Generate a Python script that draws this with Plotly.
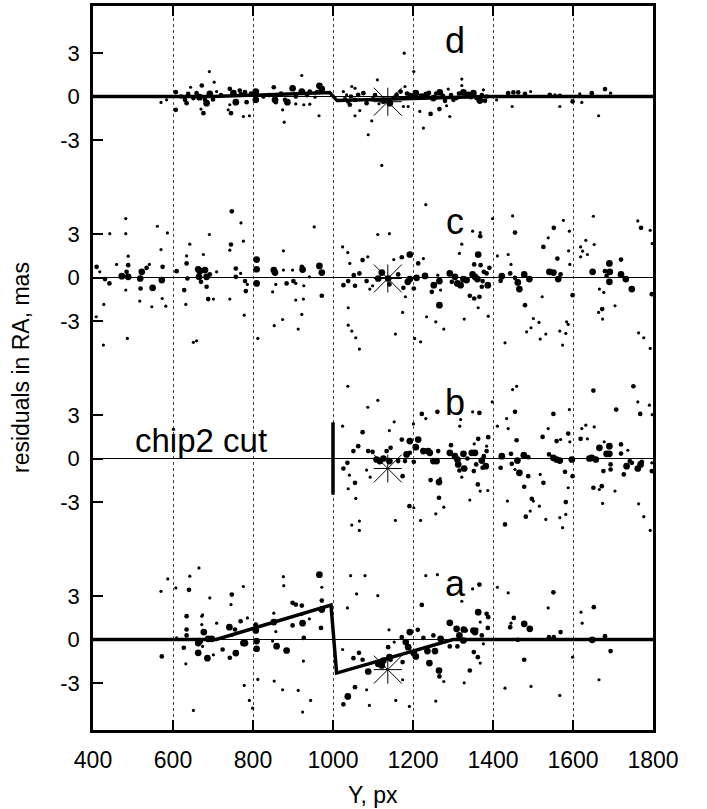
import plotly.graph_objects as go

# ---------------- data ----------------
x_ticks = [400, 600, 800, 1000, 1200, 1400, 1600, 1800]
y_tick_labels = ["-3", "0", "3"]
panel_names = ["a", "b", "c", "d"]
panel_offsets = [0.0, 12.5, 25.0, 37.5]

# model curves (Y px, residual mas)
model_a_x = [400, 708, 995, 1009, 1300, 1800]
model_a_y = [0, 0, 2.38, -2.32, 0, 0]
model_d_x = [400, 700, 992, 1010, 1385, 1800]
model_d_y = [0, 0, 0.27, -0.28, 0, 0]

chip2_cut_x = 1000
chip2_cut_half = 2.5

star_x = 1137
star_y = {"a": -2.08, "b": -0.69, "c": -0.07, "d": -0.36}

# points: [Y px, residual mas, weight class]
points_d = [
    [570,-0.41,1],[584,-0.23,1],[607,0.30,2],[607,-0.92,2],[630,-0.23,2],[634,-0.46,2],[638,0.18,2],[644,0.64,1],
    [651,-0.11,2],[659,0.23,2],[666,-0.05,3],[672,0.76,2],[670,-0.87,1],[676,-1.15,2],[680,-0.23,2],[684,-0.46,3],
    [691,1.72,1],[692,0.18,3],[703,0.99,1],[709,0.34,1],[738,-0.92,1],[745,-1.15,2],[742,0.53,2],[742,-0.57,1],
    [751,0.23,3],[757,-0.39,3],[767,0.41,2],[780,0.30,2],[784,-0.39,2],[776,-1.38,1],[791,-1.33,1],[807,0.34,3],
    [807,-0.23,3],[826,0.0,2],[852,0.64,2],[855,-0.23,3],[857,-0.39,2],[874,-0.92,1],[878,-1.77,1],[880,-0.23,2],
    [886,-0.39,3],[899,0.57,3],[907,0.0,2],[907,-0.51,1],[922,1.45,1],[922,0.34,3],[927,-0.57,1],[942,0.34,2],
    [942,-0.53,1],[955,-0.05,1],[965,-1.33,1],[966,0.74,3],[972,0.51,3],
    [620,0.0,2],[700,-0.2,2],[720,0.1,2],[770,0.15,2],[795,0.2,2],[840,0.1,2],[870,0.2,2],[935,0.1,2],[960,0.3,2],
    [1026,0.34,1],[1034,0.11,1],[1047,0.69,1],[1055,0.57,1],[1038,-0.34,2],[1042,-0.57,2],[1055,-0.23,2],[1063,0.11,2],
    [1067,-0.97,1],[1055,-1.33,1],[1076,0.23,2],[1084,-0.46,2],[1097,-1.68,1],[1088,-2.64,1],[1111,1.15,1],[1122,-4.76,1],
    [1126,-0.28,3],[1142,-0.46,3],[1151,-0.11,2],[1159,0.11,2],[1169,0.34,2],[1178,2.99,1],[1180,0.69,1],[1176,-0.69,1],
    [1188,-0.69,1],[1192,0.11,2],[1202,1.72,1],[1207,0.23,3],[1217,-1.03,1],[1226,-2.18,1],[1222,0.0,3],[1234,0.11,3],
    [1244,-1.2,2],[1251,-0.11,3],[1266,-0.87,2],[1267,0.28,3],[1284,-0.64,1],[1292,-1.38,1],[1288,0.51,1],[1301,-0.23,2],
    [1309,-0.11,2],[1322,1.2,1],[1322,0.76,1],[1326,0.28,3],[1338,0.11,3],[1351,0.23,3],[1359,-0.11,2],[1367,-0.28,3],
    [1376,0.46,1],[1384,0.0,2],[1409,-0.23,1],[1438,0.23,2],[1448,-0.69,1],[1451,0.28,2],[1463,0.28,2],[1480,0.18,2],
    [1494,0.34,1],[1542,0.11,2],[1555,0.11,1],[1567,0.05,2],[1567,-0.69,1],[1599,-0.34,2],[1622,-0.41,1],[1617,0.18,1],
    [1647,0.23,2],[1664,-1.33,1],[1680,0.51,2],[1694,0.23,1],
    [1030,-0.2,2],[1045,0.0,2],[1100,-0.2,2],[1105,0.1,2],[1115,-0.5,1],[1185,0.2,2],[1198,0.05,2],[1240,0.25,2],
    [1258,0.2,2],[1275,0.05,2],[1280,-0.3,2],[1295,0.1,2],[1315,0.2,2],[1345,-0.05,2],[1372,0.1,2],[1380,-0.3,2],
]

points_c = [
    [409,0.74,2],[408,-2.71,1],[417,0.39,1],[426,-4.67,1],[427,-1.86,1],[430,-0.11,2],[442,3.03,1],[441,-0.41,2],
    [459,0.90,1],[472,0.09,3],[482,4.07,1],[482,3.03,1],[484,0.39,2],[486,-4.21,1],[488,1.47,1],[488,0.85,2],
    [488,0.05,3],[482,-0.87,1],[518,-0.07,3],[522,0.39,3],[519,-0.76,2],[517,-1.63,1],[534,0.67,2],[541,0.90,1],
    [547,-2.02,1],[549,-0.71,3],[561,3.54,1],[572,-0.18,3],[570,1.93,1],[574,0.74,2],[573,-1.45,1],[582,-1.98,1],
    [586,3.08,1],[609,0.44,2],[628,-0.87,2],[632,-1.86,1],[634,0.97,2],[634,1.49,1],[636,-0.07,2],[642,2.30,1],
    [651,-4.48,1],[659,-4.37,1],[663,0.57,3],[667,0.44,3],[665,0.05,3],[670,-0.30,2],[676,1.59,1],[680,0.51,3],
    [684,0.05,3],[684,-0.64,2],[688,-1.49,2],[691,2.97,1],[692,0.21,2],[701,-1.49,1],[709,0.39,1],[742,1.89,1],
    [745,2.28,2],[747,4.57,2],[742,-1.49,1],[757,0.62,2],[757,0.05,2],[769,0.28,1],[770,3.77,1],[776,2.51,1],
    [780,-0.25,2],[782,-0.94,2],[778,-2.60,1],[786,-0.48,1],[809,1.24,3],[809,0.57,3],[809,-0.41,3],[812,-4.21,1],
    [849,-0.99,1],[852,0.51,3],[855,0.34,3],[853,-3.33,1],[857,-0.48,1],[876,1.84,1],[876,0.51,1],[874,-2.90,1],
    [884,-0.41,2],[899,0.51,1],[901,-0.25,2],[907,-0.41,1],[907,-1.56,1],[913,-3.56,1],[922,0.74,2],[924,0.55,3],
    [922,-2.55,1],[926,-1.49,1],[927,-0.57,1],[941,0.05,1],[953,3.49,1],[966,0.80,3],[972,0.34,3],[972,-1.26,2],
    [1024,2.11,1],[1026,-0.53,2],[1037,1.72,1],[1038,-2.09,1],[1038,-0.25,2],[1042,0.97,1],[1038,-3.29,1],[1047,-3.70,1],
    [1052,0.16,2],[1055,-0.57,2],[1057,-4.16,1],[1066,-4.94,1],
    [1066,0.28,2],[1074,1.20,2],[1087,1.43,1],[1084,-0.25,2],[1092,-0.80,1],[1099,-0.57,1],[1112,2.97,1],[1122,0.34,3],
    [1113,-0.07,3],[1141,3.03,1],[1138,-0.07,3],[1141,-0.48,2],[1152,1.24,1],[1156,-3.91,1],[1163,0.21,2],[1172,1.40,2],
    [1174,-2.41,1],[1176,-0.71,2],[1181,-1.33,1],[1187,-0.30,3],[1192,1.59,3],[1192,-0.11,3],[1202,-0.76,2],[1204,-4.21,1],
    [1209,-0.02,3],[1213,0.97,2],[1219,-4.44,1],[1226,1.31,1],[1230,0.11,3],[1232,5.03,1],[1234,-2.71,1],[1247,-0.99,2],
    [1252,-0.53,3],[1257,-3.06,1],[1262,0.16,1],[1266,-0.25,3],[1266,-1.91,3],[1269,-0.87,1],[1277,-3.56,1],[1292,0.28,3],
    [1297,-0.30,2],[1305,0.05,3],[1311,-0.41,3],[1316,1.66,1],[1319,-0.53,3],[1322,2.30,1],[1326,-0.11,3],[1328,-2.87,1],
    [1334,-0.18,3],[1342,-1.26,2],[1349,3.20,1],[1349,0.21,3],[1353,-1.45,2],[1353,0.90,2],[1355,0.05,3],[1361,-0.11,3],
    [1363,1.59,3],[1366,-1.33,2],[1368,2.85,2],[1368,3.10,1],[1363,-2.09,1],[1369,0.85,2],[1372,-0.64,2],[1374,-0.25,2],
    [1377,0.39,2],[1384,0.28,2],[1387,-0.53,3],[1388,-2.67,1],[1391,0.67,2],[1399,4.07,1],[1411,1.49,1],[1422,0.09,3],
    [1419,-0.23,2],[1430,-4.51,1],[1438,1.59,1],[1443,0.28,2],[1445,0.90,1],[1449,4.25,1],[1455,3.10,2],[1455,-0.02,2],
    [1462,-0.34,3],[1466,-0.80,3],[1478,0.21,3],[1480,-1.91,2],[1484,-3.75,1],[1491,-0.11,3],[1495,-3.47,1],[1501,-2.83,1],
    [1515,-3.10,1],[1518,-4.25,1],[1523,-1.33,1],[1526,2.11,2],[1532,-3.91,1],[1538,2.74,1],[1541,0.39,3],[1551,0.34,3],
    [1552,3.43,2],[1561,1.31,2],[1563,-0.11,3],[1569,0.21,2],[1567,-3.70,1],[1574,-4.67,1],[1576,3.95,1],[1582,-3.86,1],
    [1584,-3.06,1],[1588,-3.24,1],[1589,1.84,1],[1591,3.20,1],[1592,0.90,1],[1599,-1.22,2],[1619,2.11,1],[1619,1.43,1],
    [1624,1.82,1],[1632,2.57,1],[1636,1.59,1],[1649,0.39,3],[1651,4.23,1],[1653,2.28,1],[1666,-0.80,1],[1664,-2.41,1],
    [1673,-2.18,2],[1674,-2.87,1],[1677,-1.03,1],[1680,0.44,2],[1684,0.11,2],[1691,0.97,3],[1692,0.39,3],[1691,-0.30,3],
    [1705,-1.95,1],[1720,0.21,3],[1720,1.24,2],[1732,-0.11,3],[1747,-0.80,3],[1762,3.91,1],[1764,-3.82,1],[1770,3.43,2],
    [1777,-4.16,1],[1793,3.26,1],[1793,-4.90,1],[1797,-1.15,2],[1798,2.34,1],
]

points_b = [
    [1037,4.99,1],[1024,2.23,1],[1051,0.51,2],[1063,0.85,2],[1026,-0.69,2],[1036,-0.30,2],[1041,-1.15,1],[1055,-1.68,2],
    [1038,-2.09,1],[1057,-2.76,1],[1047,-4.60,1],[1066,-4.32,1],[1074,1.82,2],[1066,-4.97,1],[1084,-0.80,1],[1087,3.54,1],
    [1088,0.51,2],[1093,-1.29,1],[1099,0.46,2],[1112,4.02,1],[1109,-0.07,3],[1117,-0.18,3],[1126,0.0,3],[1134,0.51,2],
    [1141,-0.18,3],[1141,1.93,1],[1144,0.74,2],[1153,2.53,1],[1156,-4.28,1],[1163,-0.18,2],[1172,1.31,2],[1174,-1.22,2],
    [1180,-0.18,2],[1184,0.28,3],[1191,-3.29,2],[1192,1.20,3],[1192,0.39,2],[1201,2.39,1],[1202,-3.40,1],[1202,-0.23,2],
    [1207,0.78,3],[1213,1.31,3],[1219,-4.28,1],[1222,3.08,2],[1226,0.51,3],[1232,2.76,1],[1238,0.51,3],[1242,0.39,3],
    [1244,-1.49,2],[1251,-0.18,3],[1259,-0.18,3],[1257,-3.82,1],[1261,3.22,2],[1263,0.51,2],[1265,-1.63,3],[1268,-1.38,1],
    [1265,-2.71,2],[1277,-3.36,1],[1292,0.39,3],[1295,0.92,2],[1305,0.16,3],[1311,-0.07,3],[1313,-0.41,3],[1316,-0.83,2],
    [1317,2.23,1],[1319,2.69,1],[1322,-1.29,1],[1326,0.32,3],[1328,-0.69,3],[1336,0.0,2],[1342,-2.87,1],[1347,0.39,3],
    [1349,3.22,1],[1352,-0.87,2],[1355,0.39,3],[1353,1.01,1],[1358,-0.41,2],[1362,-1.79,2],[1363,1.36,2],[1366,3.15,2],
    [1368,-2.25,1],[1372,-0.14,3],[1374,-0.64,2],[1377,0.16,2],[1382,-0.53,3],[1384,0.51,2],[1384,0.85,1],[1387,-2.21,1],
    [1388,1.47,2],[1398,3.91,1],[1411,2.23,1],[1419,-0.64,2],[1422,0.16,3],[1430,-4.55,2],[1434,2.76,1],[1436,-2.94,1],
    [1438,2.07,1],[1445,0.32,2],[1449,4.76,1],[1459,4.99,1],[1447,-0.37,2],[1455,3.22,2],[1459,1.26,2],[1461,-0.14,3],
    [1455,-0.76,1],[1466,-0.99,3],[1477,0.23,3],[1478,-1.95,2],[1482,-4.02,2],[1488,0.09,2],[1488,-1.22,2],[1493,-3.63,1],
    [1497,-2.78,2],[1501,-2.94,1],[1516,-3.29,1],[1518,-1.10,1],[1524,1.49,2],[1526,-1.68,2],[1532,-4.21,1],[1538,2.07,1],
    [1540,0.28,2],[1551,3.08,2],[1551,0.05,3],[1559,-0.07,3],[1559,1.20,2],[1567,-0.14,3],[1567,-4.09,1],[1569,1.31,1],
    [1574,-4.78,1],[1580,-0.92,2],[1582,-3.01,2],[1582,-3.86,1],[1588,1.72,2],[1588,-2.02,1],[1591,3.38,1],[1592,1.15,1],
    [1597,-0.07,3],[1599,-1.22,2],[1619,1.36,2],[1622,2.07,1],[1632,2.30,1],[1636,1.36,1],[1641,0.0,3],[1647,0.05,3],
    [1651,-2.02,2],[1651,4.69,2],[1653,2.18,1],[1657,-0.07,3],[1666,0.74,3],[1666,-2.14,1],[1672,-1.91,2],[1674,-3.10,1],
    [1676,-0.87,2],[1678,1.15,1],[1684,0.32,3],[1691,0.85,3],[1691,0.32,3],[1694,-0.41,2],[1694,-0.76,2],[1705,-2.25,1],
    [1708,3.38,2],[1720,0.97,2],[1720,0.34,2],[1727,-1.10,2],[1734,-0.53,3],[1737,0.57,1],[1742,-0.18,2],[1747,-0.30,2],
    [1751,4.99,2],[1762,3.91,1],[1762,-0.69,3],[1764,-3.13,1],[1768,3.08,2],[1769,-0.41,3],[1772,-0.23,2],[1777,-4.02,1],
    [1791,3.68,1],[1793,-4.97,1],[1797,-0.87,2],[1797,-0.30,1],[1798,3.03,1],
]

points_a = [
    [570,3.33,1],[572,-1.17,2],[587,4.18,1],[607,3.56,1],[609,0.11,1],[627,-0.57,2],[632,-1.68,1],[634,1.61,2],
    [634,0.69,2],[634,0.28,2],[640,3.43,2],[642,4.37,1],[651,-4.90,1],[663,-0.25,3],[663,-0.92,3],[665,4.94,1],
    [667,-0.11,3],[672,1.61,1],[672,1.03,1],[674,1.70,1],[677,0.51,3],[674,-0.48,1],[686,-1.29,3],[688,0.05,3],
    [692,2.87,1],[697,0.05,3],[701,-1.06,1],[709,1.13,1],[724,-0.69,2],[741,0.85,3],[742,-1.26,2],[745,2.41,1],
    [747,3.10,2],[747,0.28,1],[755,0.69,2],[757,-0.94,3],[769,1.26,2],[776,3.66,1],[776,-0.25,3],[780,-0.25,3],
    [778,-3.17,1],[786,1.49,1],[791,-4.21,1],[799,-4.74,1],[807,1.03,2],[807,0.62,3],[809,-0.11,3],[809,-0.64,3],
    [812,-2.76,1],[849,-0.11,1],[852,1.82,1],[852,1.20,3],[853,-2.87,1],[857,0.55,1],[859,-0.46,3],[874,-3.47,1],
    [876,4.34,1],[877,3.72,1],[884,-0.76,3],[899,0.97,2],[899,2.53,2],[907,2.41,2],[913,-3.52,1],[922,2.34,2],
    [922,1.72,1],[924,1.13,3],[924,-5.01,1],[926,-1.49,1],[927,0.11,2],[941,1.43,1],[944,-4.21,1],[966,4.48,3],
    [970,0.80,2],[972,3.61,1],[972,2.69,2],[972,2.07,3],[1024,-0.69,1],[1026,-4.48,2],[1037,-3.93,3],[1036,2.18,1],
    [1044,4.41,1],[1051,-1.29,2],[1055,-3.29,2],[1059,3.15,1],[1065,-0.92,2],[1074,-1.40,2],[1080,4.41,1],[1084,-3.47,1],
    [1091,-4.55,1],[1088,-2.21,3],[1112,3.03,1],[1113,-1.68,3],[1122,-1.79,3],[1126,-1.45,3],[1140,0.67,1],[1138,-0.53,2],
    [1141,-1.22,3],[1144,-1.40,2],[1153,-0.18,1],[1157,-4.21,1],[1172,0.16,2],[1174,-1.56,2],[1174,-2.78,1],[1182,-0.18,3],
    [1188,-0.53,3],[1191,-4.62,1],[1192,0.51,3],[1202,-0.94,3],[1207,-1.17,3],[1212,0.67,2],[1222,2.39,2],[1226,0.11,2],
    [1232,4.41,1],[1236,-0.80,3],[1241,-1.63,3],[1251,0.28,2],[1255,-0.80,3],[1257,-4.25,1],[1261,4.48,1],[1265,-2.14,3],
    [1266,-2.55,2],[1269,0.05,3],[1277,-2.90,1],[1292,-0.48,2],[1292,1.15,3],[1309,0.74,3],[1311,-0.48,2],[1316,0.28,3],
    [1322,2.64,1],[1326,-0.07,3],[1327,0.69,3],[1328,-2.99,1],[1332,0.62,2],[1342,-2.14,2],[1349,3.49,1],[1351,0.62,3],
    [1355,0.51,3],[1352,-0.87,2],[1358,0.67,2],[1362,-1.22,2],[1363,1.89,3],[1366,3.79,2],[1368,-1.63,1],[1368,1.20,1],
    [1372,0.28,2],[1376,-0.30,1],[1384,1.77,2],[1387,0.80,2],[1388,1.54,2],[1411,3.61,1],[1430,-3.36,1],[1438,3.22,1],
    [1443,0.85,2],[1445,1.13,1],[1452,1.49,2],[1462,-0.02,2],[1478,1.08,3],[1478,-1.40,2],[1492,0.74,3],[1495,-3.24,1],
    [1538,2.18,1],[1540,0.16,2],[1551,3.26,2],[1552,0.16,2],[1567,-3.86,1],[1569,0.51,2],[1599,-1.22,1],[1620,1.89,1],
    [1623,1.13,1],[1648,-0.02,3],[1652,2.23,2],[1665,-2.78,1],[1680,0.23,2],[1694,-0.80,2],
]

# ---------------- figure ----------------
FONT = "Liberation Sans, Arial, Helvetica, sans-serif"
DOT_SIZE = {1: 3.2, 2: 4.7, 3: 6.7}

points = {"a": points_a, "b": points_b, "c": points_c, "d": points_d}
models = {"a": (model_a_x, model_a_y), "d": (model_d_x, model_d_y)}

fig = go.Figure()

for name, off in zip(panel_names, panel_offsets):
    # thin zero line
    fig.add_trace(go.Scatter(x=[x_ticks[0], x_ticks[-1]], y=[off, off], mode="lines",
                             line=dict(color="black", width=1), hoverinfo="skip"))
    if name in models:
        mx, my = models[name]
        fig.add_trace(go.Scatter(x=mx, y=[v + off for v in my], mode="lines",
                                 line=dict(color="black", width=3.5), hoverinfo="skip"))
    if name == "b":
        fig.add_trace(go.Scatter(x=[chip2_cut_x, chip2_cut_x],
                                 y=[off - chip2_cut_half, off + chip2_cut_half], mode="lines",
                                 line=dict(color="black", width=3.5), hoverinfo="skip"))
    pts = points[name]
    fig.add_trace(go.Scatter(x=[p[0] for p in pts], y=[p[1] + off for p in pts], mode="markers",
                             marker=dict(color="black", opacity=1,
                                         size=[DOT_SIZE[p[2]] for p in pts],
                                         line=dict(width=0)),
                             hoverinfo="skip"))
    # star marker
    fig.add_trace(go.Scatter(x=[star_x], y=[star_y[name] + off], mode="markers",
                             marker=dict(symbol="x-thin-open", size=28, color="black", opacity=1,
                                         line=dict(color="black", width=1)), hoverinfo="skip"))
    fig.add_trace(go.Scatter(x=[star_x], y=[star_y[name] + off], mode="markers",
                             marker=dict(symbol="cross-thin-open", size=20, color="black", opacity=1,
                                         line=dict(color="black", width=1)), hoverinfo="skip"))
    fig.add_annotation(x=1305, y=off + 3.85, text=name, showarrow=False,
                       font=dict(family=FONT, size=36, color="black"),
                       xanchor="center", yanchor="middle")

fig.add_annotation(x=670, y=panel_offsets[1] + 1.25, text="chip2 cut", showarrow=False,
                   font=dict(family=FONT, size=33, color="black"), xanchor="center", yanchor="middle")

# axis titles
fig.add_annotation(x=0.5, y=0, xref="paper", yref="paper", text="Y, px", showarrow=False,
                   yshift=-65, xanchor="center", yanchor="middle",
                   font=dict(family=FONT, size=23, color="black"))
fig.add_annotation(x=0, y=0.5, xref="paper", yref="paper", text="residuals in RA, mas", showarrow=False,
                   xshift=-72, textangle=-90, xanchor="center", yanchor="middle",
                   font=dict(family=FONT, size=23, color="black"))

y_tickvals, y_ticktext = [], []
for off in panel_offsets:
    for lab in y_tick_labels:
        y_tickvals.append(off + float(lab))
        y_ticktext.append(lab)

fig.update_layout(
    width=707, height=809,
    margin=dict(l=93, r=54, t=3, b=79),
    paper_bgcolor="white", plot_bgcolor="white",
    showlegend=False,
    font=dict(family=FONT, color="black"),
    xaxis=dict(range=[400, 1800], tickvals=x_ticks, ticktext=[str(v) for v in x_ticks],
               ticks="inside", ticklen=10, tickwidth=1.5, tickcolor="black",
               mirror="ticks", showline=True, linewidth=2.5, linecolor="black",
               showgrid=True, gridcolor="#444", griddash="dot", gridwidth=1,
               zeroline=False, tickfont=dict(family=FONT, size=23, color="black"),
               ticklabelstandoff=8),
    yaxis=dict(range=[-6.25, 43.75], tickvals=y_tickvals, ticktext=y_ticktext,
               ticks="inside", ticklen=10, tickwidth=1.5, tickcolor="black",
               mirror=True, showline=True, linewidth=2.5, linecolor="black",
               showgrid=False, zeroline=False,
               tickfont=dict(family=FONT, size=22, color="black"),
               ticklabelstandoff=6),
)

fig.write_html("out.html")
